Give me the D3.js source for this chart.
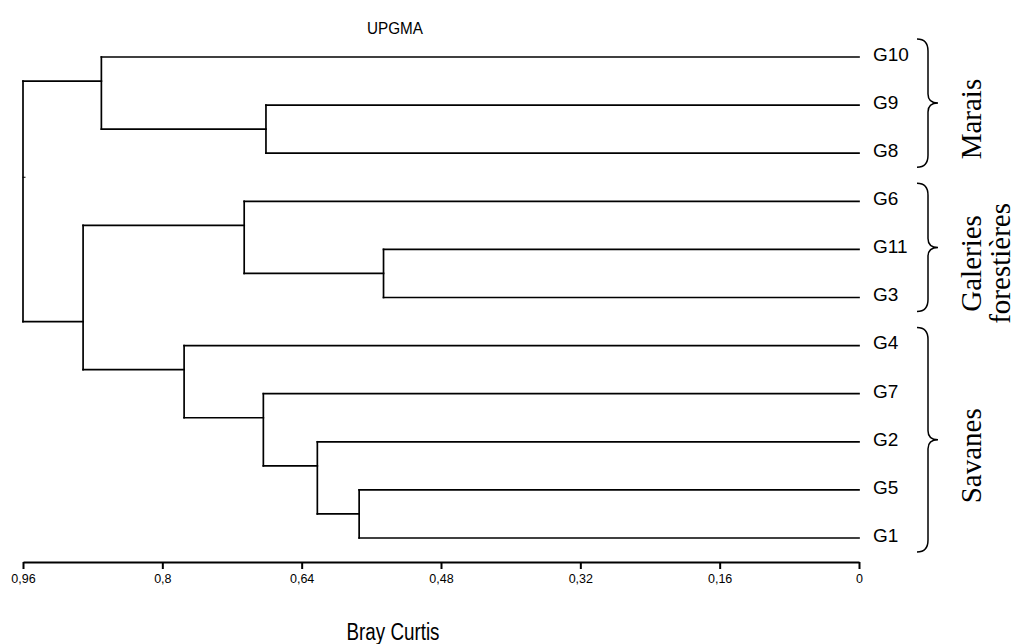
<!DOCTYPE html>
<html>
<head>
<meta charset="utf-8">
<script src="https://cdnjs.cloudflare.com/ajax/libs/d3/7.8.5/d3.min.js"></script>
<style>
	body { margin: 0; background: #fff; }
	svg { display: block; }
</style>
</head>
<body>
<div id="chart"></div>
<script>
// UPGMA clustering, Bray Curtis distance
// each merge joins nodeLeft + nodeRight at nodeHeight
var nodeIds    = ['n1', 'n2', 'n3', 'n4', 'n5', 'n6', 'n7', 'n8', 'n9', 'n10'];
var nodeLeft   = ['G9', 'G10', 'G11', 'G6', 'G5', 'G2', 'G7', 'G4', 'n4', 'n2'];
var nodeRight  = ['G8', 'n1', 'G3', 'n3', 'G1', 'n5', 'n6', 'n7', 'n8', 'n9'];
var nodeHeight = [0.681, 0.870, 0.546, 0.706, 0.574, 0.622, 0.684, 0.775, 0.891, 0.960];

var tickValues = [0.96, 0.8, 0.64, 0.48, 0.32, 0.16, 0];

var groupLines = [['Marais'], ['Galeries', 'forestières'], ['Savanes']];
var groupFirst = ['G10', 'G6', 'G4'];
var groupLast  = ['G8', 'G3', 'G1'];

var chartTitle = 'UPGMA';
var axisTitle = 'Bray Curtis';

var width = 1020, height = 644;
var sans = 'Liberation Sans, Arial, sans-serif';
var narrow = 'Liberation Sans Narrow, Arial Narrow, Liberation Sans, sans-serif';

function buildNode(id) {
	var i = nodeIds.indexOf(id);
	if (i < 0) {
		return { name: id, h: 0 };
	}
	return { name: id, h: nodeHeight[i], children: [buildNode(nodeLeft[i]), buildNode(nodeRight[i])] };
}

var root = d3.hierarchy(buildNode(nodeIds[nodeIds.length - 1]));
var leaves = root.leaves();
leaves.forEach(function (d, i) { d.idx = i; });

var x = d3.scaleLinear().domain([0.96, 0]).range([23, 859]);
var y = d3.scaleLinear().domain([0, leaves.length - 1]).range([57, 538]);

// connection point sits between last leaf of first child and first leaf of second child
root.eachAfter(function (d) {
	if (!d.children) {
		d.cy = y(d.idx);
		d.first = d.idx;
		d.last = d.idx;
		return;
	}
	var a = d.children[0], b = d.children[1];
	d.first = a.first;
	d.last = b.last;
	d.cy = (y(a.last) + y(b.first)) / 2;
});

var svg = d3.select('#chart').append('svg')
	.attr('width', width)
	.attr('height', height);

var tree = svg.append('g')
	.attr('fill', 'none')
	.attr('stroke', '#000')
	.attr('stroke-width', 1.7)
	.attr('stroke-linecap', 'square');

root.descendants().forEach(function (d) {
	if (d.children) {
		tree.append('line')
			.attr('x1', x(d.data.h)).attr('x2', x(d.data.h))
			.attr('y1', d.children[0].cy).attr('y2', d.children[1].cy);
	}
	if (d.parent) {
		tree.append('line')
			.attr('x1', x(d.data.h)).attr('x2', x(d.parent.data.h))
			.attr('y1', d.cy).attr('y2', d.cy);
	}
});

// little stem of the root
tree.append('line')
	.attr('x1', x(root.data.h)).attr('x2', x(root.data.h) + 2)
	.attr('y1', root.cy).attr('y2', root.cy)
	.attr('stroke-width', 1);

svg.append('g').selectAll('text')
	.data(leaves)
	.join('text')
	.attr('x', x(0) + 14)
	.attr('y', function (d) { return d.cy; })
	.attr('dy', '0.2em')
	.attr('font-family', sans)
	.attr('font-size', 19)
	.text(function (d) { return d.data.name; });

// axis
var fmt = d3.formatLocale({ decimal: ',', thousands: ' ', grouping: [3], currency: ['', ''] }).format('~g');
var axis = d3.axisBottom(x)
	.tickValues(tickValues)
	.tickFormat(fmt)
	.tickSize(7)
	.tickSizeOuter(0)
	.tickPadding(5);

var gAxis = svg.append('g')
	.attr('transform', 'translate(0,562)')
	.call(axis);
gAxis.select('.domain').attr('stroke-width', 2);
gAxis.selectAll('.tick line').attr('stroke-width', 2);
gAxis.selectAll('.tick text')
	.attr('font-family', sans)
	.attr('font-size', 12.5)
	.attr('fill', '#000');

svg.append('text')
	.attr('x', 395)
	.attr('y', 34)
	.attr('text-anchor', 'middle')
	.attr('font-family', narrow)
	.attr('font-size', 16)
	.attr('textLength', 56)
	.attr('lengthAdjust', 'spacingAndGlyphs')
	.text(chartTitle);

svg.append('text')
	.attr('x', 393)
	.attr('y', 640)
	.attr('text-anchor', 'middle')
	.attr('font-family', narrow)
	.attr('font-size', 23)
	.attr('textLength', 93)
	.attr('lengthAdjust', 'spacingAndGlyphs')
	.text(axisTitle);

// braces and group names
var leafY = {};
leaves.forEach(function (d) { leafY[d.data.name] = d.cy; });

function bracePath(top, bot) {
	var mid = (top + bot) / 2;
	var x0 = 917, x1 = 928, x2 = 938;
	return 'M' + x0 + ',' + top +
		' Q' + x1 + ',' + top + ' ' + x1 + ',' + (top + 12) +
		' L' + x1 + ',' + (mid - 9) +
		' Q' + x1 + ',' + mid + ' ' + x2 + ',' + mid +
		' Q' + x1 + ',' + mid + ' ' + x1 + ',' + (mid + 9) +
		' L' + x1 + ',' + (bot - 12) +
		' Q' + x1 + ',' + bot + ' ' + x0 + ',' + bot;
}

var groups = svg.append('g');
groupLines.forEach(function (lines, i) {
	var top = leafY[groupFirst[i]] - 18;
	var bot = leafY[groupLast[i]] + 14;
	groups.append('path')
		.attr('d', bracePath(top, bot))
		.attr('fill', 'none')
		.attr('stroke', '#000')
		.attr('stroke-width', 1.5);
	var cy = (top + bot) / 2 + 16;
	lines.forEach(function (t, k) {
		groups.append('text')
			.attr('transform', 'translate(' + (981 + k * 29) + ',' + cy + ') rotate(-90)')
			.attr('text-anchor', 'middle')
			.attr('font-family', 'Liberation Serif, Times New Roman, serif')
			.attr('font-size', 29)
			.text(t);
	});
});
</script>
</body>
</html>
